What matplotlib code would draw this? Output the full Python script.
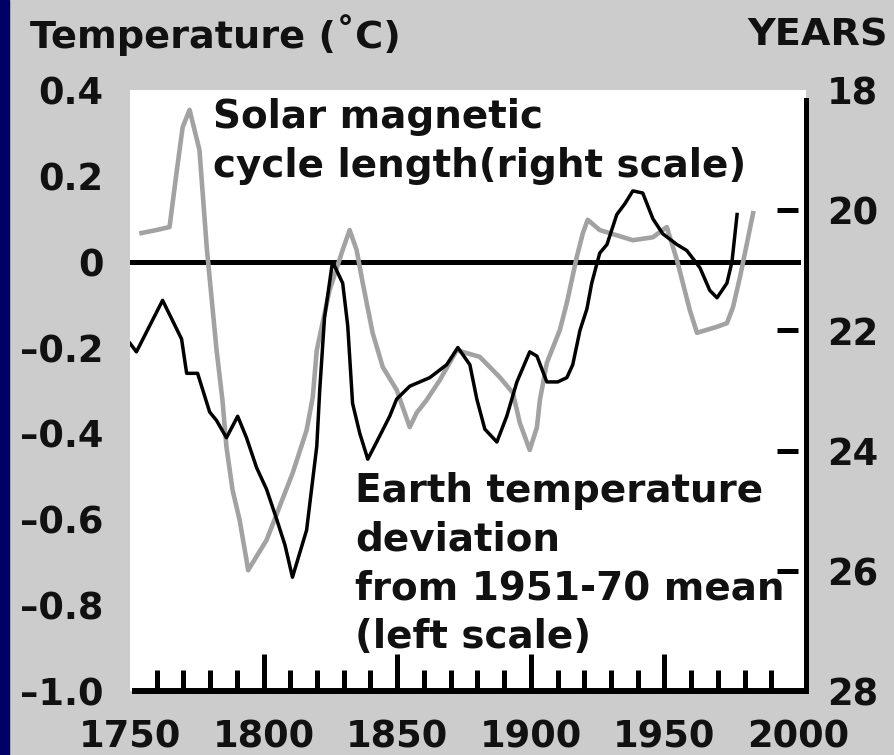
import numpy as np
import matplotlib
matplotlib.use("Agg")
import matplotlib.pyplot as plt
from matplotlib.patches import Rectangle

# Earth temperature deviation (left scale, deg C)
temp_years = [1750, 1752.4, 1762.2, 1769.3, 1771.2, 1775.3, 1779.8, 1782.4, 1786.1,
              1790.3, 1793.6, 1797.4, 1801.1, 1804.9, 1808.0, 1810.8, 1816.1, 1819.9,
              1821.0, 1822.8, 1825.8, 1829.6, 1831.5, 1833.3, 1836.0, 1839.0, 1842.3,
              1847.2, 1849.8, 1854.7, 1862.2, 1868.5, 1872.7, 1877.2, 1879.8, 1882.8,
              1887.3, 1891.0, 1894.8, 1899.6, 1902.3, 1906.0, 1910.1, 1913.5, 1915.7,
              1918.4, 1921.0, 1922.8, 1925.8, 1928.5, 1932.2, 1935.2, 1938.2, 1941.9,
              1945.7, 1949.4, 1954.7, 1958.4, 1963.3, 1967.0, 1969.7, 1973.4, 1975.3,
              1977.2]
temp_dev = [-0.19, -0.21, -0.09, -0.18, -0.26, -0.26, -0.35, -0.37, -0.41,
            -0.36, -0.41, -0.48, -0.53, -0.60, -0.66, -0.735, -0.625, -0.43,
            -0.30, -0.13, 0.0, -0.05, -0.15, -0.33, -0.40, -0.46, -0.42,
            -0.36, -0.32, -0.29, -0.27, -0.24, -0.20, -0.24, -0.32, -0.39,
            -0.42, -0.36, -0.28, -0.21, -0.22, -0.28, -0.28, -0.27, -0.24,
            -0.16, -0.11, -0.05, 0.02, 0.04, 0.11, 0.135, 0.165, 0.16,
            0.10, 0.065, 0.04, 0.026, -0.014, -0.067, -0.084, -0.05, 0.0,
            0.11]

# Solar magnetic cycle length (right scale, years)
cycle_years = [1754.3, 1759.9, 1764.8, 1767.4, 1769.7, 1772.3, 1776.0, 1778.7, 1782.4,
               1784.6, 1786.1, 1788.4, 1791.0, 1793.6, 1794.2, 1801.1, 1810.9, 1816.1,
               1818.4, 1819.9, 1824.7, 1829.6, 1832.2, 1834.8, 1837.1, 1840.8, 1844.6,
               1849.8, 1854.7, 1857.3, 1861.0, 1865.9, 1872.3, 1880.9, 1888.4, 1893.3,
               1895.9, 1899.6, 1902.3, 1903.4, 1906.0, 1910.9, 1913.5, 1917.2, 1919.5,
               1921.3, 1925.8, 1938.2, 1945.7, 1950.9, 1954.7, 1956.9, 1959.5, 1962.2,
               1969.7, 1973.4, 1975.7, 1978.3, 1980.9, 1983.2]
cycle_len = [20.38, 20.33, 20.28, 19.38, 18.62, 18.33, 19.0, 20.61, 22.33,
             23.16, 23.94, 24.66, 25.15, 25.82, 25.99, 25.49, 24.37, 23.66,
             23.11, 22.33, 21.33, 20.66, 20.33, 20.66, 21.21, 22.04, 22.61,
             22.99, 23.61, 23.37, 23.16, 22.83, 22.33, 22.44, 22.78, 23.04,
             23.54, 23.99, 23.61, 23.16, 22.54, 21.99, 21.54, 20.78, 20.38,
             20.16, 20.33, 20.50, 20.45, 20.28, 20.83, 21.21, 21.66, 22.04,
             21.94, 21.88, 21.61, 21.11, 20.55, 20.05]

left_labels = [0.4, 0.2, 0, -0.2, -0.4, -0.6, -0.8, -1.0]
left_marks = [0.2, -0.2, -0.4, -0.6, -0.8]
right_labels = [18, 20, 22, 24, 26, 28]
right_marks = [20, 22, 24, 26]
x_labels = [1750, 1800, 1850, 1900, 1950, 2000]
x_minor = list(range(1760, 2000, 10))

plt.rcParams['font.family'] = 'DejaVu Sans'
plt.rcParams['font.weight'] = 'bold'

W, H = 895, 755
def fx(px):
    return px / W
def fy(py):
    return 1 - py / H

ink = '#111111'
fig = plt.figure(figsize=(8.95, 7.55), dpi=100, facecolor='#cccccc')
fig.patches.append(Rectangle((0, 0), fx(9), 1, transform=fig.transFigure,
                             color='#000066', zorder=0))

ax = fig.add_axes([fx(130), fy(691), fx(806) - fx(130), fy(90) - fy(691)])
ax.set_facecolor('white')
ax.set_xlim(1750, 2003)
ax.set_ylim(-1.0, 0.4)
ax2 = ax.twinx()
ax2.set_ylim(28, 18)

# zero line, then gray cycle curve, then black temperature curve
ax.axhline(0, xmin=0, xmax=(798 - 130) / 676, color='black', lw=3.6, zorder=1)
ax.plot(cycle_years, cycle_len, transform=ax2.transData, color='#a2a2a2',
        lw=3.3, zorder=2)
ax.plot(temp_years, temp_dev, color='black', lw=2.5, zorder=3)

for s in ['left', 'top', 'right']:
    ax.spines[s].set_visible(False)
for s in ['left', 'top', 'bottom']:
    ax2.spines[s].set_visible(False)
ax.spines['bottom'].set_linewidth(4.3)
ax.spines['bottom'].set_bounds(1752, 2003)
ax2.spines['right'].set_linewidth(3.6)
ax2.spines['right'].set_bounds(18.17, 28)

# left axis
ax.set_yticks(left_labels)
ax.set_yticklabels([('%.1f' % v).replace('-', '\u2013') if v != 0 else '0'
                    for v in left_labels])
ax.set_yticks(left_marks, minor=True)
ax.tick_params(axis='y', which='major', length=0, pad=19, labelsize=26.5,
               labelcolor=ink)
ax.tick_params(axis='y', which='minor', direction='in', length=15, width=3.6)

# bottom axis
ax.set_xticks(x_labels)
ax.set_xticks(x_minor, minor=True)
ax.tick_params(axis='x', which='major', direction='in', length=27, width=3.6,
               pad=20, labelsize=26.5, labelcolor=ink)
ax.tick_params(axis='x', which='minor', direction='in', length=15, width=3.6)
xt = ax.xaxis.get_major_ticks()
xt[0].tick1line.set_visible(False)
xt[-1].tick1line.set_visible(False)

# right axis
ax2.set_yticks(right_labels)
ax2.tick_params(axis='y', length=0, pad=15, labelsize=26.5, labelcolor=ink)
for v in right_marks:
    ax2.plot([(777 - 130) / 676, (798 - 130) / 676], [v, v],
             transform=ax2.get_yaxis_transform(), color='black', lw=3.6,
             solid_capstyle='butt', clip_on=False)

fig.text(fx(30), fy(35), 'Temperature (\u02daC)', fontsize=27.5, va='center',
         ha='left', color=ink)
fig.text(fx(888), fy(35), 'YEARS', fontsize=27.5, va='center', ha='right',
         color=ink)

fig.text(fx(213), fy(128), 'Solar magnetic', fontsize=28, va='baseline',
         color=ink)
fig.text(fx(213), fy(177), 'cycle length(right scale)', fontsize=28,
         va='baseline', color=ink)
for i, line in enumerate(['Earth temperature', 'deviation',
                          'from 1951-70 mean', '(left scale)']):
    fig.text(fx(355), fy(502 + 48.7 * i), line, fontsize=28, va='baseline',
             color=ink)

fig.savefig('out.png', dpi=100, facecolor=fig.get_facecolor())
